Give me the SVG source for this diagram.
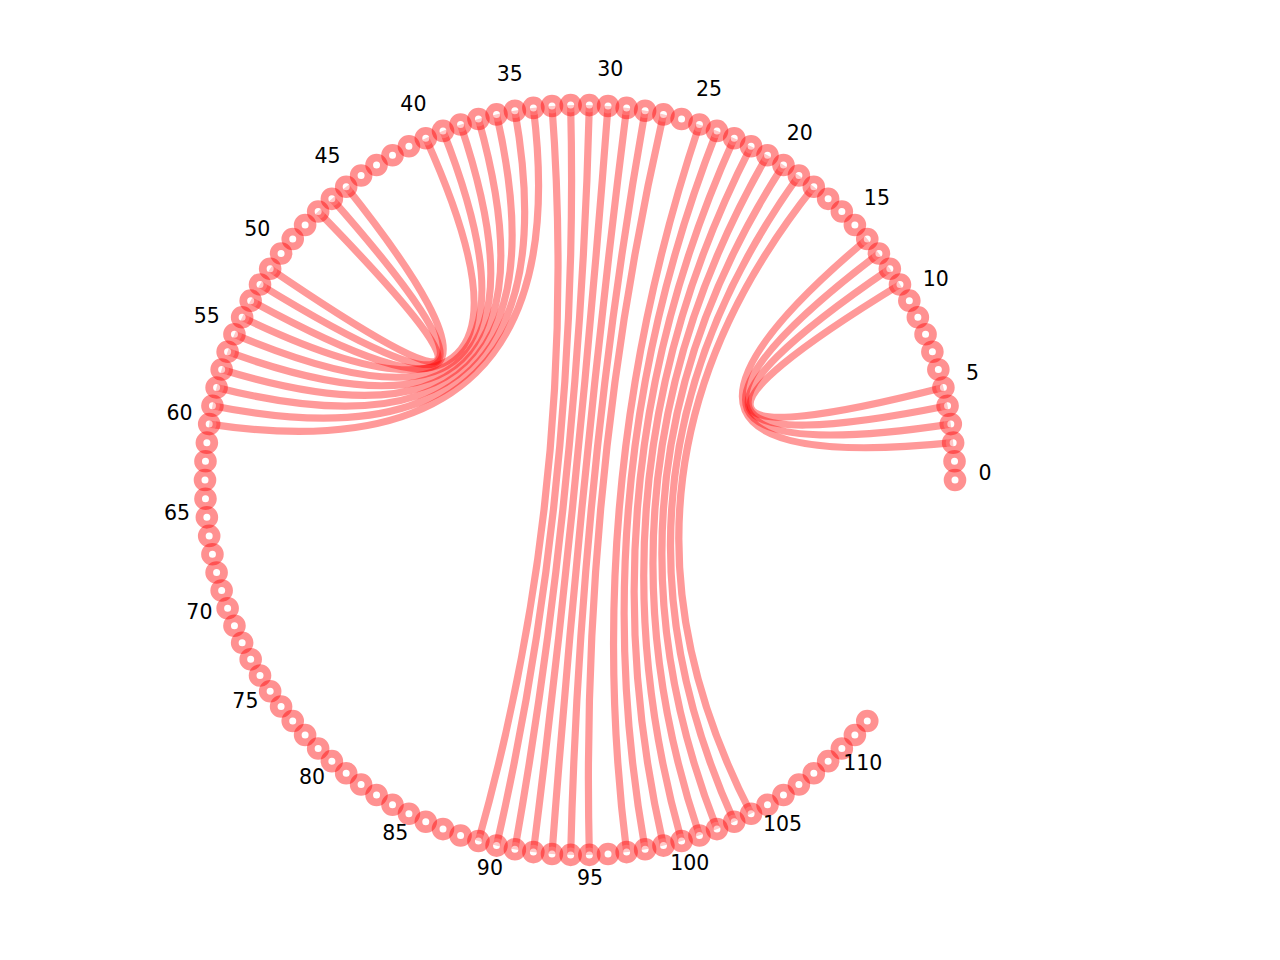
<svg xmlns="http://www.w3.org/2000/svg" width="1280" height="960" viewBox="0 0 1280 960">
<style>
.arc{fill:none;stroke:#ff0000;stroke-opacity:0.4;stroke-width:7.2;stroke-linecap:butt}
.n{fill:#ffffff;fill-opacity:0.45;stroke:#ff0000;stroke-opacity:0.43;stroke-width:7.8}
.lb{font-family:"DejaVu Sans","Liberation Sans",sans-serif;font-size:20.5px;fill:#000000;text-anchor:middle}
</style>
<rect width="1280" height="960" fill="#ffffff"/>
<g id="connectors">
<path class="arc" d="M953.14 442.66 Q580 480 867.27 238.95"/>
<path class="arc" d="M950.81 424.11 Q580 480 878.92 253.57"/>
<path class="arc" d="M947.56 405.70 Q580 480 889.84 268.75"/>
<path class="arc" d="M943.40 387.47 Q580 480 899.98 284.46"/>
<path class="arc" d="M813.81 186.81 Q580 480 751.08 813.70"/>
<path class="arc" d="M798.90 175.52 Q580 480 734.23 821.81"/>
<path class="arc" d="M783.45 164.99 Q580 480 717.00 829.08"/>
<path class="arc" d="M767.50 155.24 Q580 480 699.43 835.47"/>
<path class="arc" d="M751.08 146.30 Q580 480 681.57 840.98"/>
<path class="arc" d="M734.23 138.19 Q580 480 663.45 845.60"/>
<path class="arc" d="M717.00 130.92 Q580 480 645.12 849.30"/>
<path class="arc" d="M699.43 124.53 Q580 480 626.63 852.09"/>
<path class="arc" d="M663.45 114.40 Q580 480 589.35 854.88"/>
<path class="arc" d="M645.12 110.70 Q580 480 570.65 854.88"/>
<path class="arc" d="M626.63 107.91 Q580 480 551.98 853.95"/>
<path class="arc" d="M608.02 106.05 Q580 480 533.37 852.09"/>
<path class="arc" d="M589.35 105.12 Q580 480 514.88 849.30"/>
<path class="arc" d="M570.65 105.12 Q580 480 496.55 845.60"/>
<path class="arc" d="M551.98 106.05 Q580 480 478.43 840.98"/>
<path class="arc" d="M533.37 107.91 Q580 480 209.19 424.11"/>
<path class="arc" d="M514.88 110.70 Q580 480 212.44 405.70"/>
<path class="arc" d="M496.55 114.40 Q580 480 216.60 387.47"/>
<path class="arc" d="M478.43 119.02 Q580 480 221.66 369.47"/>
<path class="arc" d="M460.57 124.53 Q580 480 227.62 351.74"/>
<path class="arc" d="M443.00 130.92 Q580 480 234.45 334.32"/>
<path class="arc" d="M425.77 138.19 Q580 480 242.14 317.29"/>
<path class="arc" d="M346.19 186.81 Q580 480 250.67 300.65"/>
<path class="arc" d="M331.87 198.83 Q580 480 260.02 284.46"/>
<path class="arc" d="M318.16 211.55 Q580 480 270.16 268.75"/>
</g>
<g id="node-0"><circle class="n" cx="955.00" cy="480.00" r="7.4"/><text class="lb" x="985.0" y="480.0">0</text></g>
<g id="node-1"><circle class="n" cx="954.53" cy="461.31" r="7.4"/></g>
<g id="node-2"><circle class="n" cx="953.14" cy="442.66" r="7.4"/></g>
<g id="node-3"><circle class="n" cx="950.81" cy="424.11" r="7.4"/></g>
<g id="node-4"><circle class="n" cx="947.56" cy="405.70" r="7.4"/></g>
<g id="node-5"><circle class="n" cx="943.40" cy="387.47" r="7.4"/><text class="lb" x="972.5" y="380.1">5</text></g>
<g id="node-6"><circle class="n" cx="938.34" cy="369.47" r="7.4"/></g>
<g id="node-7"><circle class="n" cx="932.38" cy="351.74" r="7.4"/></g>
<g id="node-8"><circle class="n" cx="925.55" cy="334.32" r="7.4"/></g>
<g id="node-9"><circle class="n" cx="917.86" cy="317.29" r="7.4"/></g>
<g id="node-10"><circle class="n" cx="909.33" cy="300.65" r="7.4"/><text class="lb" x="935.7" y="286.3">10</text></g>
<g id="node-11"><circle class="n" cx="899.98" cy="284.46" r="7.4"/></g>
<g id="node-12"><circle class="n" cx="889.84" cy="268.75" r="7.4"/></g>
<g id="node-13"><circle class="n" cx="878.92" cy="253.57" r="7.4"/></g>
<g id="node-14"><circle class="n" cx="867.27" cy="238.95" r="7.4"/></g>
<g id="node-15"><circle class="n" cx="854.89" cy="224.94" r="7.4"/><text class="lb" x="876.9" y="204.5">15</text></g>
<g id="node-16"><circle class="n" cx="841.84" cy="211.55" r="7.4"/></g>
<g id="node-17"><circle class="n" cx="828.13" cy="198.83" r="7.4"/></g>
<g id="node-18"><circle class="n" cx="813.81" cy="186.81" r="7.4"/></g>
<g id="node-19"><circle class="n" cx="798.90" cy="175.52" r="7.4"/></g>
<g id="node-20"><circle class="n" cx="783.45" cy="164.99" r="7.4"/><text class="lb" x="799.7" y="139.8">20</text></g>
<g id="node-21"><circle class="n" cx="767.50" cy="155.24" r="7.4"/></g>
<g id="node-22"><circle class="n" cx="751.08" cy="146.30" r="7.4"/></g>
<g id="node-23"><circle class="n" cx="734.23" cy="138.19" r="7.4"/></g>
<g id="node-24"><circle class="n" cx="717.00" cy="130.92" r="7.4"/></g>
<g id="node-25"><circle class="n" cx="699.43" cy="124.53" r="7.4"/><text class="lb" x="709.0" y="96.1">25</text></g>
<g id="node-26"><circle class="n" cx="681.57" cy="119.02" r="7.4"/></g>
<g id="node-27"><circle class="n" cx="663.45" cy="114.40" r="7.4"/></g>
<g id="node-28"><circle class="n" cx="645.12" cy="110.70" r="7.4"/></g>
<g id="node-29"><circle class="n" cx="626.63" cy="107.91" r="7.4"/></g>
<g id="node-30"><circle class="n" cx="608.02" cy="106.05" r="7.4"/><text class="lb" x="610.3" y="76.1">30</text></g>
<g id="node-31"><circle class="n" cx="589.35" cy="105.12" r="7.4"/></g>
<g id="node-32"><circle class="n" cx="570.65" cy="105.12" r="7.4"/></g>
<g id="node-33"><circle class="n" cx="551.98" cy="106.05" r="7.4"/></g>
<g id="node-34"><circle class="n" cx="533.37" cy="107.91" r="7.4"/></g>
<g id="node-35"><circle class="n" cx="514.88" cy="110.70" r="7.4"/><text class="lb" x="509.7" y="81.2">35</text></g>
<g id="node-36"><circle class="n" cx="496.55" cy="114.40" r="7.4"/></g>
<g id="node-37"><circle class="n" cx="478.43" cy="119.02" r="7.4"/></g>
<g id="node-38"><circle class="n" cx="460.57" cy="124.53" r="7.4"/></g>
<g id="node-39"><circle class="n" cx="443.00" cy="130.92" r="7.4"/></g>
<g id="node-40"><circle class="n" cx="425.77" cy="138.19" r="7.4"/><text class="lb" x="413.4" y="110.8">40</text></g>
<g id="node-41"><circle class="n" cx="408.92" cy="146.30" r="7.4"/></g>
<g id="node-42"><circle class="n" cx="392.50" cy="155.24" r="7.4"/></g>
<g id="node-43"><circle class="n" cx="376.55" cy="164.99" r="7.4"/></g>
<g id="node-44"><circle class="n" cx="361.10" cy="175.52" r="7.4"/></g>
<g id="node-45"><circle class="n" cx="346.19" cy="186.81" r="7.4"/><text class="lb" x="327.5" y="163.3">45</text></g>
<g id="node-46"><circle class="n" cx="331.87" cy="198.83" r="7.4"/></g>
<g id="node-47"><circle class="n" cx="318.16" cy="211.55" r="7.4"/></g>
<g id="node-48"><circle class="n" cx="305.11" cy="224.94" r="7.4"/></g>
<g id="node-49"><circle class="n" cx="292.73" cy="238.95" r="7.4"/></g>
<g id="node-50"><circle class="n" cx="281.08" cy="253.57" r="7.4"/><text class="lb" x="257.2" y="235.5">50</text></g>
<g id="node-51"><circle class="n" cx="270.16" cy="268.75" r="7.4"/></g>
<g id="node-52"><circle class="n" cx="260.02" cy="284.46" r="7.4"/></g>
<g id="node-53"><circle class="n" cx="250.67" cy="300.65" r="7.4"/></g>
<g id="node-54"><circle class="n" cx="242.14" cy="317.29" r="7.4"/></g>
<g id="node-55"><circle class="n" cx="234.45" cy="334.32" r="7.4"/><text class="lb" x="206.8" y="322.7">55</text></g>
<g id="node-56"><circle class="n" cx="227.62" cy="351.74" r="7.4"/></g>
<g id="node-57"><circle class="n" cx="221.66" cy="369.47" r="7.4"/></g>
<g id="node-58"><circle class="n" cx="216.60" cy="387.47" r="7.4"/></g>
<g id="node-59"><circle class="n" cx="212.44" cy="405.70" r="7.4"/></g>
<g id="node-60"><circle class="n" cx="209.19" cy="424.11" r="7.4"/><text class="lb" x="179.5" y="419.6">60</text></g>
<g id="node-61"><circle class="n" cx="206.86" cy="442.66" r="7.4"/></g>
<g id="node-62"><circle class="n" cx="205.47" cy="461.31" r="7.4"/></g>
<g id="node-63"><circle class="n" cx="205.00" cy="480.00" r="7.4"/></g>
<g id="node-64"><circle class="n" cx="205.47" cy="498.69" r="7.4"/></g>
<g id="node-65"><circle class="n" cx="206.86" cy="517.34" r="7.4"/><text class="lb" x="177.0" y="520.3">65</text></g>
<g id="node-66"><circle class="n" cx="209.19" cy="535.89" r="7.4"/></g>
<g id="node-67"><circle class="n" cx="212.44" cy="554.30" r="7.4"/></g>
<g id="node-68"><circle class="n" cx="216.60" cy="572.53" r="7.4"/></g>
<g id="node-69"><circle class="n" cx="221.66" cy="590.53" r="7.4"/></g>
<g id="node-70"><circle class="n" cx="227.62" cy="608.26" r="7.4"/><text class="lb" x="199.4" y="618.5">70</text></g>
<g id="node-71"><circle class="n" cx="234.45" cy="625.68" r="7.4"/></g>
<g id="node-72"><circle class="n" cx="242.14" cy="642.71" r="7.4"/></g>
<g id="node-73"><circle class="n" cx="250.67" cy="659.35" r="7.4"/></g>
<g id="node-74"><circle class="n" cx="260.02" cy="675.54" r="7.4"/></g>
<g id="node-75"><circle class="n" cx="270.16" cy="691.25" r="7.4"/><text class="lb" x="245.4" y="708.2">75</text></g>
<g id="node-76"><circle class="n" cx="281.08" cy="706.43" r="7.4"/></g>
<g id="node-77"><circle class="n" cx="292.73" cy="721.05" r="7.4"/></g>
<g id="node-78"><circle class="n" cx="305.11" cy="735.06" r="7.4"/></g>
<g id="node-79"><circle class="n" cx="318.16" cy="748.45" r="7.4"/></g>
<g id="node-80"><circle class="n" cx="331.87" cy="761.17" r="7.4"/><text class="lb" x="312.0" y="783.7">80</text></g>
<g id="node-81"><circle class="n" cx="346.19" cy="773.19" r="7.4"/></g>
<g id="node-82"><circle class="n" cx="361.10" cy="784.48" r="7.4"/></g>
<g id="node-83"><circle class="n" cx="376.55" cy="795.01" r="7.4"/></g>
<g id="node-84"><circle class="n" cx="392.50" cy="804.76" r="7.4"/></g>
<g id="node-85"><circle class="n" cx="408.92" cy="813.70" r="7.4"/><text class="lb" x="395.2" y="840.4">85</text></g>
<g id="node-86"><circle class="n" cx="425.77" cy="821.81" r="7.4"/></g>
<g id="node-87"><circle class="n" cx="443.00" cy="829.08" r="7.4"/></g>
<g id="node-88"><circle class="n" cx="460.57" cy="835.47" r="7.4"/></g>
<g id="node-89"><circle class="n" cx="478.43" cy="840.98" r="7.4"/></g>
<g id="node-90"><circle class="n" cx="496.55" cy="845.60" r="7.4"/><text class="lb" x="489.9" y="874.8">90</text></g>
<g id="node-91"><circle class="n" cx="514.88" cy="849.30" r="7.4"/></g>
<g id="node-92"><circle class="n" cx="533.37" cy="852.09" r="7.4"/></g>
<g id="node-93"><circle class="n" cx="551.98" cy="853.95" r="7.4"/></g>
<g id="node-94"><circle class="n" cx="570.65" cy="854.88" r="7.4"/></g>
<g id="node-95"><circle class="n" cx="589.35" cy="854.88" r="7.4"/><text class="lb" x="590.1" y="884.9">95</text></g>
<g id="node-96"><circle class="n" cx="608.02" cy="853.95" r="7.4"/></g>
<g id="node-97"><circle class="n" cx="626.63" cy="852.09" r="7.4"/></g>
<g id="node-98"><circle class="n" cx="645.12" cy="849.30" r="7.4"/></g>
<g id="node-99"><circle class="n" cx="663.45" cy="845.60" r="7.4"/></g>
<g id="node-100"><circle class="n" cx="681.57" cy="840.98" r="7.4"/><text class="lb" x="689.7" y="869.9">100</text></g>
<g id="node-101"><circle class="n" cx="699.43" cy="835.47" r="7.4"/></g>
<g id="node-102"><circle class="n" cx="717.00" cy="829.08" r="7.4"/></g>
<g id="node-103"><circle class="n" cx="734.23" cy="821.81" r="7.4"/></g>
<g id="node-104"><circle class="n" cx="751.08" cy="813.70" r="7.4"/></g>
<g id="node-105"><circle class="n" cx="767.50" cy="804.76" r="7.4"/><text class="lb" x="782.5" y="830.7">105</text></g>
<g id="node-106"><circle class="n" cx="783.45" cy="795.01" r="7.4"/></g>
<g id="node-107"><circle class="n" cx="798.90" cy="784.48" r="7.4"/></g>
<g id="node-108"><circle class="n" cx="813.81" cy="773.19" r="7.4"/></g>
<g id="node-109"><circle class="n" cx="828.13" cy="761.17" r="7.4"/></g>
<g id="node-110"><circle class="n" cx="841.84" cy="748.45" r="7.4"/><text class="lb" x="862.8" y="769.9">110</text></g>
<g id="node-111"><circle class="n" cx="854.89" cy="735.06" r="7.4"/></g>
<g id="node-112"><circle class="n" cx="867.27" cy="721.05" r="7.4"/></g>
</svg>
